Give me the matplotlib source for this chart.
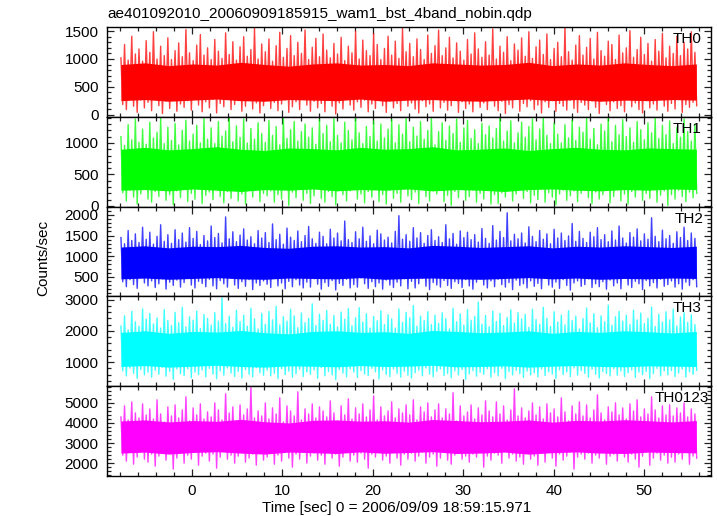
import numpy as np
import matplotlib
matplotlib.use("Agg")
import matplotlib.pyplot as plt
from matplotlib.ticker import MultipleLocator

plt.rcParams['font.family'] = ['Liberation Sans', 'DejaVu Sans']

title = "ae401092010_20060909185915_wam1_bst_4band_nobin.qdp"
xlabel = "Time [sec] 0 = 2006/09/09 18:59:15.971"
ylabel = "Counts/sec"
band_names = ["TH0", "TH1", "TH2", "TH3", "TH0123"]
band_colors = ["#ff0000", "#00ff00", "#0000ff", "#00ffff", "#ff00ff"]

t_start = -7.85
t_step = 0.1995      # spacing of the sampled light-curve extremes
core_step = 2.65     # spacing of the dense-band bounds

th0 = [
    1020, 180, 1260, 90, 980, 310, 1410, 150, 1090, 40, 1180, 260, 960, 120, 1330, 220,
    1120, 70, 1490, 280, 1000, 160, 1230, 20, 1060, 240, 1380, 110, 990, 300, 1150, 60,
    1290, 190, 1040, 130, 1530, 250, 1110, 80, 970, 330, 1250, 170, 1440, 50, 1070, 230,
    1200, 120, 990, 270, 1350, 30, 1140, 200, 1010, 140, 1470, 290, 1080, 90, 1310, 180,
    980, 250, 1220, 60, 1400, 150, 1050, 310, 1170, 100, 1560, 210, 1000, 30, 1270, 160,
    1130, 280, 1360, 110, 960, 220, 1240, 70, 1480, 190, 1030, 260, 1190, 40, 1420, 140,
    1060, 230, 1300, 90, 1100, 300, 1520, 170, 990, 60, 1210, 240, 1370, 120, 1040, 200,
    1450, 50, 1160, 270, 1020, 150, 1280, 10, 1090, 210, 1390, 100, 970, 290, 1230, 170,
    1110, 80, 1500, 230, 1000, 130, 1340, 260, 1150, 50, 1060, 190, 1460, 110, 1260, 300,
    990, 160, 1190, 40, 1410, 240, 1070, 120, 1320, 200, 1010, 70, 1550, 280, 1130, 150,
    1280, 210, 1040, 100, 1360, 30, 1170, 250, 990, 140, 1430, 190, 1100, 60, 1240, 270,
    1520, 120, 1060, 220, 1200, 80, 1390, 160, 1020, 300, 1290, 40, 1140, 230, 980, 110,
    1350, 190, 1090, 50, 1470, 260, 1180, 130, 1030, 210, 1310, 90, 1070, 280, 1540, 150,
    1000, 70, 1230, 240, 1120, 20, 1400, 180, 970, 120, 1270, 300, 1160, 60, 1380, 200,
    1050, 140, 1490, 250, 1010, 90, 1220, 170, 1340, 30, 1080, 230, 1450, 130, 990, 280,
    1190, 60, 1300, 200, 1040, 150, 1560, 80, 1130, 260, 980, 110, 1250, 40, 1420, 220,
    1070, 170, 1210, 90, 1370, 240, 1000, 130, 1480, 20, 1150, 290, 1050, 180, 1320, 70,
    1260, 230, 990, 110, 1430, 160, 1110, 50, 1200, 270, 1510, 140, 1030, 210, 1170, 90,
    1390, 30, 1080, 250, 1280, 120, 960, 190, 1350, 80, 1140, 300, 1460, 150, 1020, 60,
    1230, 200, 1100, 100, 1410, 270, 1060, 40, 1300, 180, 1180, 130, 1490, 220, 1120, 160,
]

th1 = [
    1100, 210, 960, 80, 1290, 250, 1050, 140, 1380, 30, 1010, 190, 1220, 280, 980, 110,
    1330, 60, 1080, 230, 1170, 150, 1400, 270, 990, 90, 1250, 180, 1040, 20, 1310, 240,
    970, 130, 1200, 290, 1360, 70, 1030, 200, 1140, 110, 1280, 260, 1000, 40, 1390, 170,
    1060, 220, 1240, 100, 990, 300, 1340, 150, 1110, 50, 1190, 230, 1410, 120, 1020, 270,
    1270, 80, 1090, 190, 1380, 30, 1000, 250, 1230, 140, 1060, 290, 1320, 70, 1150, 200,
    1010, 160, 1360, 240, 1120, 60, 1260, 180, 970, 110, 1400, 280, 1070, 10, 1210, 220,
    1340, 130, 1030, 270, 1180, 90, 1300, 200, 1090, 40, 1240, 160, 980, 300, 1370, 120,
    1150, 60, 1280, 230, 1020, 150, 1390, 20, 1120, 260, 1000, 180, 1330, 80, 1200, 240,
    1050, 290, 1410, 110, 1160, 190, 990, 50, 1260, 230, 1100, 140, 1350, 270, 1030, 70,
    1300, 180, 1080, 30, 1220, 250, 1370, 120, 1000, 200, 1290, 60, 1140, 290, 1390, 160,
    1020, 100, 1250, 220, 1110, 40, 1340, 270, 1060, 150, 1200, 80, 1400, 240, 970, 190,
    1180, 260, 1320, 70, 1040, 170, 1270, 10, 1150, 230, 1380, 130, 1010, 280, 1240, 90,
    1360, 150, 1070, 250, 1210, 60, 990, 200, 1310, 110, 1130, 290, 1270, 30, 1080, 180,
    1230, 40, 1400, 210, 1030, 140, 1190, 260, 1350, 80, 1000, 190, 1160, 300, 1330, 120,
    1090, 230, 1260, 50, 1380, 170, 1050, 100, 1220, 280, 1410, 60, 1120, 210, 990, 140,
    1310, 20, 1140, 190, 1000, 250, 1290, 90, 1080, 160, 1360, 240, 1040, 70, 1250, 200,
    1170, 270, 1390, 130, 1060, 40, 1230, 220, 970, 110, 1300, 180, 1190, 290, 1400, 50,
    1020, 150, 1280, 260, 1130, 80, 1370, 190, 1100, 30, 1240, 230, 1010, 140, 1340, 270,
    1210, 90, 1050, 200, 1320, 120, 1160, 280, 1400, 60, 1070, 170, 1280, 240, 1130, 10,
    1350, 180, 990, 110, 1250, 250, 1090, 150, 1380, 70, 1180, 220, 1030, 130, 1300, 200,
]

th2 = [
    1450, 380, 1300, 260, 1620, 430, 1380, 310, 1540, 220, 1330, 470, 1700, 350, 1410, 280,
    1580, 400, 1290, 240, 1480, 330, 1760, 450, 1360, 200, 1520, 370, 1310, 290, 1640, 420,
    1400, 250, 1560, 360, 1340, 480, 1690, 300, 1430, 230, 1600, 390, 1280, 340, 1500, 260,
    1370, 440, 1730, 280, 1450, 210, 1550, 410, 1320, 330, 1950, 250, 1420, 460, 1590, 300,
    1350, 220, 1510, 380, 1660, 270, 1390, 430, 1470, 190, 1300, 350, 1620, 290, 1440, 400,
    1570, 320, 1330, 240, 1780, 460, 1400, 280, 1530, 350, 1290, 210, 1680, 390, 1460, 260,
    1380, 430, 1610, 300, 1350, 230, 1500, 370, 1720, 250, 1420, 450, 1310, 320, 1580, 200,
    1480, 360, 1300, 270, 1650, 410, 1440, 180, 1560, 340, 1370, 290, 1850, 440, 1400, 230,
    1330, 310, 1590, 250, 1420, 470, 1700, 330, 1360, 220, 1490, 380, 1300, 260, 1630, 350,
    1540, 200, 1390, 420, 1460, 300, 1320, 240, 1600, 370, 1980, 280, 1410, 450, 1520, 210,
    1360, 390, 1690, 230, 1440, 330, 1570, 460, 1310, 270, 1500, 190, 1640, 360, 1380, 300,
    1470, 250, 1330, 410, 1760, 290, 1420, 220, 1550, 380, 1290, 340, 1610, 240, 1450, 430,
    1580, 280, 1400, 200, 1520, 370, 1340, 450, 1670, 300, 1430, 230, 1310, 400, 1740, 260,
    1390, 440, 1600, 310, 1450, 250, 2050, 360, 1370, 190, 1530, 420, 1420, 290, 1560, 330,
    1320, 230, 1710, 400, 1480, 270, 1350, 340, 1620, 210, 1410, 460, 1540, 300, 1300, 250,
    1650, 370, 1440, 220, 1560, 430, 1380, 290, 1490, 180, 1790, 350, 1360, 400, 1600, 270,
    1430, 310, 1330, 450, 1580, 240, 1470, 330, 1690, 260, 1400, 380, 1520, 200, 1350, 420,
    1610, 280, 1390, 350, 1730, 210, 1440, 470, 1320, 300, 1570, 240, 1460, 390, 1660, 330,
    1370, 190, 1540, 410, 1410, 280, 1930, 360, 1480, 230, 1350, 440, 1630, 270, 1420, 310,
    1500, 400, 1310, 250, 1590, 330, 1450, 200, 1700, 370, 1380, 290, 1560, 430, 1430, 260,
]

th3 = [
    2150, 720, 2480, 560, 2030, 810, 2620, 640, 2290, 480, 2150, 760, 2700, 590, 2380, 680,
    2560, 520, 2220, 740, 2410, 610, 2090, 830, 2680, 550, 2330, 700, 2170, 450, 2590, 780,
    2260, 630, 2750, 570, 2120, 790, 2450, 500, 2340, 680, 2630, 600, 2070, 750, 2520, 530,
    2400, 800, 2180, 620, 2580, 470, 2310, 720, 3050, 580, 2230, 810, 2470, 650, 2110, 540,
    2660, 700, 2290, 490, 2500, 760, 2150, 610, 2720, 530, 2380, 820, 2060, 660, 2560, 580,
    2210, 740, 2620, 560, 2350, 640, 2780, 470, 2190, 790, 2450, 600, 2310, 710, 2690, 520,
    2480, 630, 2100, 770, 2570, 540, 2260, 690, 2400, 610, 2860, 750, 2170, 480, 2530, 820,
    2330, 560, 2650, 700, 2210, 590, 2490, 440, 2120, 760, 2600, 650, 2370, 530, 2710, 790,
    2160, 680, 2420, 510, 2740, 730, 2280, 620, 2550, 570, 2090, 800, 2460, 690, 2320, 460,
    2640, 750, 2200, 600, 2510, 540, 2380, 780, 2090, 640, 2700, 520, 2270, 710, 2590, 580,
    2420, 490, 2810, 660, 2150, 740, 2470, 560, 2330, 810, 2610, 620, 2200, 530, 2500, 700,
    2240, 780, 2580, 570, 2390, 640, 2060, 500, 2720, 720, 2290, 590, 2540, 760, 2180, 450,
    2680, 620, 2340, 730, 2460, 550, 2920, 680, 2210, 610, 2490, 790, 2130, 520, 2630, 660,
    2300, 560, 2560, 800, 2170, 470, 2430, 700, 2670, 590, 2250, 740, 2580, 630, 2380, 510,
    2520, 710, 2110, 590, 2690, 660, 2360, 530, 2210, 780, 2750, 570, 2400, 690, 2140, 620,
    2610, 480, 2280, 750, 2500, 600, 2190, 690, 2640, 540, 2330, 810, 2470, 580, 2060, 730,
    2390, 640, 2730, 520, 2250, 770, 2550, 610, 2100, 490, 2480, 700, 2290, 640, 2820, 560,
    2180, 790, 2450, 580, 2620, 720, 2310, 540, 2500, 660, 2200, 750, 2660, 510, 2350, 680,
    2570, 600, 2230, 700, 2400, 470, 2760, 630, 2140, 800, 2530, 560, 2280, 720, 2610, 590,
    2350, 730, 2690, 540, 2160, 650, 2440, 780, 2580, 520, 2270, 690, 2510, 610, 2200, 740,
]

th0123 = [
    4300, 2400, 4850, 2100, 4150, 2600, 5050, 1950, 4500, 2300, 4250, 2550, 4950, 2200, 4400, 2050,
    4700, 2450, 4200, 1850, 5150, 2350, 4450, 2600, 4050, 2150, 4800, 2500, 4350, 1700, 4900, 2250,
    4250, 2550, 4650, 2000, 5300, 2400, 4100, 2200, 4750, 2650, 4400, 1900, 4950, 2350, 4200, 2500,
    4550, 2100, 4300, 2450, 5000, 1750, 4650, 2300, 4150, 2600, 5450, 2200, 4500, 2400, 4800, 2000,
    4100, 2350, 4900, 2550, 4400, 2050, 4700, 2250, 5800, 2450, 4250, 1900, 4600, 2600, 4350, 2150,
    5000, 2300, 4200, 2500, 4750, 1950, 4450, 2400, 5250, 2100, 4050, 2550, 4850, 2250, 4600, 1800,
    4350, 2450, 5550, 2200, 4150, 2600, 4700, 2000, 4450, 2350, 4950, 2500, 4250, 2150, 4800, 2400,
    4600, 1950, 4300, 2550, 5100, 2250, 4500, 2450, 4100, 1850, 4850, 2300, 4400, 2600, 5200, 2100,
    4200, 2400, 4750, 2050, 4450, 2500, 4950, 2200, 4300, 1750, 4650, 2450, 5350, 2300, 4150, 2550,
    4800, 2150, 4350, 2350, 4600, 2000, 5050, 2600, 4250, 2250, 4700, 1900, 4500, 2450, 4900, 2200,
    4400, 2500, 5150, 2100, 4150, 2350, 4800, 2550, 4550, 2000, 5000, 2300, 4300, 2450, 4650, 1850,
    4950, 2250, 4250, 2600, 4700, 2150, 4450, 1950, 5500, 2400, 4100, 2500, 4850, 2200, 4350, 2350,
    4550, 2050, 4900, 2450, 4200, 2300, 4750, 2550, 4400, 1800, 5100, 2350, 4600, 2150, 4300, 2500,
    5050, 2400, 4450, 2000, 4850, 2600, 4150, 2250, 4650, 2450, 5700, 2100, 4350, 2300, 4750, 1950,
    4250, 2550, 4600, 2200, 5000, 2350, 4400, 1900, 4800, 2500, 4200, 2050, 4950, 2600, 4500, 2250,
    4700, 1850, 4300, 2450, 5250, 2150, 4550, 2350, 4100, 2550, 4850, 1700, 4450, 2300, 5050, 2450,
    4350, 2200, 4900, 2500, 4250, 2000, 4650, 2400, 5400, 2250, 4500, 2550, 4150, 1950, 4800, 2350,
    4550, 2450, 5000, 2100, 4400, 2600, 4750, 2300, 4200, 2050, 4950, 2450, 4600, 2200, 5150, 1800,
    4300, 2350, 4700, 2550, 4450, 1900, 5300, 2250, 4650, 2500, 4250, 2150, 4850, 2400, 4400, 2000,
    4900, 2300, 4350, 2050, 4750, 2450, 4500, 2200, 5000, 2600, 4300, 1950, 4700, 2350, 4450, 2250,
]

# bounds of the dense (solid-looking) part of each light curve
th0_core_lo = [250, 270, 240, 260, 280, 250, 240, 270, 260, 250, 280, 240, 260,
               270, 250, 240, 260, 280, 250, 270, 240, 260, 250, 270, 260]
th0_core_hi = [900, 930, 880, 910, 890, 940, 900, 870, 910, 930, 890, 900, 880,
               930, 910, 890, 900, 940, 880, 910, 890, 930, 900, 880, 910]
th1_core_lo = [250, 260, 240, 270, 250, 230, 260, 250, 270, 240, 260, 250, 270,
               240, 260, 250, 230, 260, 270, 250, 240, 260, 250, 270, 260]
th1_core_hi = [900, 930, 890, 910, 940, 900, 880, 920, 910, 890, 930, 900, 910,
               940, 890, 900, 920, 880, 910, 930, 900, 890, 920, 910, 900]
th2_core_lo = [450, 470, 440, 460, 480, 450, 440, 470, 460, 450, 480, 440, 460,
               470, 450, 440, 460, 480, 450, 470, 440, 460, 450, 470, 460]
th2_core_hi = [1220, 1250, 1200, 1240, 1230, 1260, 1210, 1190, 1240, 1250, 1220, 1230, 1200,
               1260, 1240, 1210, 1230, 1250, 1200, 1240, 1220, 1250, 1230, 1210, 1240]
th3_core_lo = [860, 890, 840, 870, 900, 860, 840, 880, 870, 850, 890, 860, 870,
               900, 850, 860, 880, 840, 870, 890, 860, 850, 880, 870, 860]
th3_core_hi = [1950, 2000, 1920, 1980, 1960, 2010, 1940, 1900, 1980, 2000, 1950, 1970, 1920,
               2010, 1980, 1940, 1960, 2000, 1920, 1980, 1950, 2000, 1970, 1930, 1980]
th0123_core_lo = [2500, 2550, 2450, 2530, 2570, 2500, 2450, 2550, 2520, 2480, 2560, 2490, 2530,
                  2570, 2480, 2500, 2550, 2450, 2520, 2560, 2500, 2480, 2550, 2530, 2510]
th0123_core_hi = [4100, 4150, 4050, 4120, 4080, 4180, 4060, 4000, 4130, 4150, 4090, 4110, 4040,
                  4170, 4120, 4060, 4090, 4150, 4040, 4130, 4100, 4160, 4110, 4050, 4120]

series = [th0, th1, th2, th3, th0123]
cores_lo = [th0_core_lo, th1_core_lo, th2_core_lo, th3_core_lo, th0123_core_lo]
cores_hi = [th0_core_hi, th1_core_hi, th2_core_hi, th3_core_hi, th0123_core_hi]
y_limits = [(-40, 1575), (-10, 1415), (25, 2200), (230, 3100), (1360, 5830)]
y_major = [500, 500, 500, 1000, 1000]
y_minor = [100, 100, 100, 200, 200]
x_limits = (-9.39, 57.37)
label_x = [0.985, 0.985, 0.987, 0.985, 0.996]

fig = plt.figure(figsize=(7.17, 5.16), dpi=100)
gs = fig.add_gridspec(5, 1, left=107/717, right=711/717, top=1-27/516,
                      bottom=1-476/516, hspace=0)
axes = [fig.add_subplot(gs[i]) for i in range(5)]

for i, ax in enumerate(axes):
    y = np.array(series[i], dtype=float)
    t = t_start + t_step * np.arange(len(y))
    clo = np.array(cores_lo[i], dtype=float)
    chi = np.array(cores_hi[i], dtype=float)
    tc = t_start + core_step * np.arange(len(clo))
    ax.fill_between(tc, clo, chi, color=band_colors[i], lw=0, zorder=2)
    ax.plot(t, y, color=band_colors[i], lw=1.0, alpha=0.75, zorder=3)
    ax.set_xlim(*x_limits)
    ax.set_ylim(*y_limits[i])
    ax.xaxis.set_major_locator(MultipleLocator(10))
    ax.xaxis.set_minor_locator(MultipleLocator(2))
    ax.yaxis.set_major_locator(MultipleLocator(y_major[i]))
    ax.yaxis.set_minor_locator(MultipleLocator(y_minor[i]))
    ax.tick_params(which='both', direction='in', top=True, right=True,
                   labelsize=11, width=0.9, colors='#222222', labelcolor='black')
    ax.tick_params(which='major', length=5, pad=6)
    ax.tick_params(which='minor', length=2.8)
    for s in ax.spines.values():
        s.set_linewidth(1.0)
        s.set_zorder(5)
    if i < 4:
        ax.tick_params(labelbottom=False)
    ax.text(label_x[i], 0.945, band_names[i], transform=ax.transAxes,
            ha='right', va='top', fontsize=11, zorder=6)

fig.text(397/717, 1-508/516, xlabel, ha='center', va='center', fontsize=11)
fig.text(43/717, 0.5, ylabel, rotation=90, ha='center', va='center', fontsize=11)
fig.text(107/717, 1-14/516, title, ha='left', va='center', fontsize=11)

fig.savefig("out.png", dpi=100)
